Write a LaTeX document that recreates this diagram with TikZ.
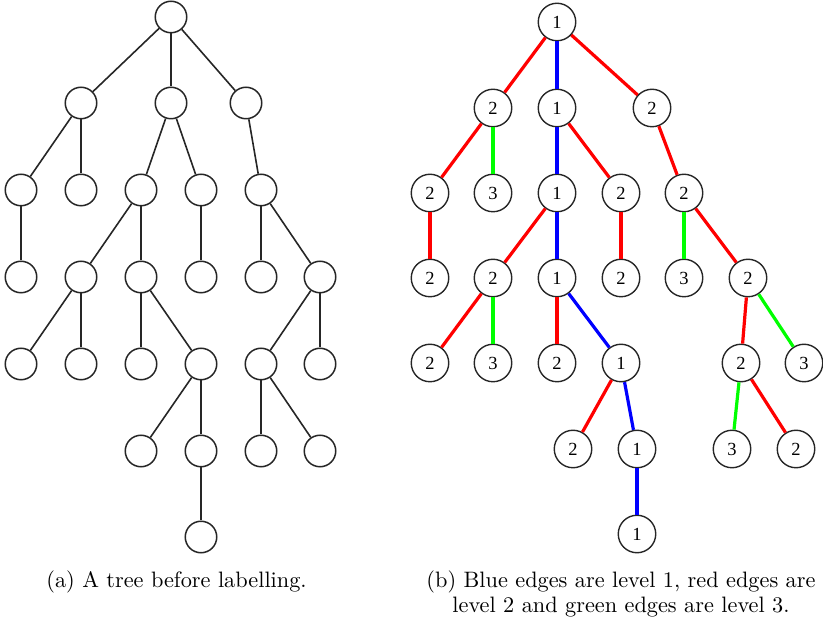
\documentclass[tikz,border=0pt]{standalone}
\usepackage{fontspec}
\newfontfamily\labfont{Liberation Serif}
\usepackage{graphicx}
\begin{document}
\begin{tikzpicture}[x=1pt,y=-1pt,
  lnode/.style={circle,draw=black!85,line width=1.5pt,minimum size=31.5pt,inner sep=0pt},
  rnode/.style={circle,draw=black!85,line width=1.4pt,minimum size=37.5pt,inner sep=0pt,font=\labfont\fontsize{18.5}{18.5}\selectfont},
  ledge/.style={draw=black!85,line width=1.6pt},
  redge/.style={line width=3.2pt},
  bl/.style={redge,draw=blue}, rd/.style={redge,draw=red}, gr/.style={redge,draw=green},
  captext/.style={anchor=base,inner sep=0pt}]
\useasboundingbox (0,0) rectangle (823,617);
% ---------- left tree ----------
\node[lnode] (L0) at (171,17) {};
\node[lnode] (L1a) at (81,103) {};
\node[lnode] (L1b) at (171,103) {};
\node[lnode] (L1c) at (246,103) {};
\node[lnode] (L2a) at (21,190) {};
\node[lnode] (L2b) at (81,190) {};
\node[lnode] (L2c) at (141,190) {};
\node[lnode] (L2d) at (201,190) {};
\node[lnode] (L2e) at (261,190) {};
\node[lnode] (L3a) at (21,277) {};
\node[lnode] (L3b) at (81,277) {};
\node[lnode] (L3c) at (141,277) {};
\node[lnode] (L3d) at (201,277) {};
\node[lnode] (L3e) at (261,277) {};
\node[lnode] (L3f) at (320,277) {};
\node[lnode] (L4a) at (21,364) {};
\node[lnode] (L4b) at (81,364) {};
\node[lnode] (L4c) at (141,364) {};
\node[lnode] (L4d) at (201,364) {};
\node[lnode] (L4e) at (261,364) {};
\node[lnode] (L4f) at (320,364) {};
\node[lnode] (L5a) at (141,451) {};
\node[lnode] (L5b) at (201,451) {};
\node[lnode] (L5c) at (261,451) {};
\node[lnode] (L5d) at (320,451) {};
\node[lnode] (L6) at (201,537) {};
\foreach \a/\b in {L0/L1a,L0/L1b,L0/L1c,L1a/L2a,L1a/L2b,L1b/L2c,L1b/L2d,L1c/L2e,
  L2a/L3a,L2c/L3b,L2c/L3c,L2d/L3d,L2e/L3e,L2e/L3f,L3b/L4a,L3b/L4b,L3c/L4c,L3c/L4d,
  L3f/L4e,L3f/L4f,L4d/L5a,L4d/L5b,L4e/L5c,L4e/L5d,L5b/L6}
  \draw[ledge] (\a) -- (\b);
% ---------- right tree ----------
\node[rnode] (R0) at (557,22) {1};
\node[rnode] (R1a) at (493,108) {2};
\node[rnode] (R1b) at (557,108) {1};
\node[rnode] (R1c) at (652,108) {2};
\node[rnode] (R2a) at (430,193) {2};
\node[rnode] (R2b) at (493,193) {3};
\node[rnode] (R2c) at (557,193) {1};
\node[rnode] (R2d) at (621,193) {2};
\node[rnode] (R2e) at (684,193) {2};
\node[rnode] (R3a) at (430,278) {2};
\node[rnode] (R3b) at (493,278) {2};
\node[rnode] (R3c) at (557,278) {1};
\node[rnode] (R3d) at (621,278) {2};
\node[rnode] (R3e) at (684,278) {3};
\node[rnode] (R3f) at (748,278) {2};
\node[rnode] (R4a) at (430,363) {2};
\node[rnode] (R4b) at (493,363) {3};
\node[rnode] (R4c) at (557,363) {2};
\node[rnode] (R4d) at (621,363) {1};
\node[rnode] (R4e) at (741,363) {2};
\node[rnode] (R4f) at (804,363) {3};
\node[rnode] (R5a) at (573,449) {2};
\node[rnode] (R5b) at (637,449) {1};
\node[rnode] (R5c) at (732,449) {3};
\node[rnode] (R5d) at (796,449) {2};
\node[rnode] (R6) at (637,534) {1};
\foreach \a/\b/\s in {R0/R1a/rd,R0/R1b/bl,R0/R1c/rd,R1a/R2a/rd,R1a/R2b/gr,R1b/R2c/bl,R1b/R2d/rd,
  R1c/R2e/rd,R2a/R3a/rd,R2c/R3b/rd,R2c/R3c/bl,R2d/R3d/rd,R2e/R3e/gr,R2e/R3f/rd,
  R3b/R4a/rd,R3b/R4b/gr,R3c/R4c/rd,R3c/R4d/bl,R3f/R4e/rd,R3f/R4f/gr,
  R4d/R5a/rd,R4d/R5b/bl,R4e/R5c/gr,R4e/R5d/rd,R5b/R6/bl}
  \draw[\s] (\a) -- (\b);
% ---------- captions ----------
\node[captext] (capa) at (176.5,588) {\scalebox{2.23}{(a) A tree before labelling.}};
\node[captext] (capb) at (621,588) {\scalebox{2.23}{\renewcommand{\arraystretch}{0.897}\begin{tabular}[t]{@{}c@{}}(b) Blue edges are level 1, red edges are\\ level 2 and green edges are level 3.\end{tabular}}};
\end{tikzpicture}
\end{document}
